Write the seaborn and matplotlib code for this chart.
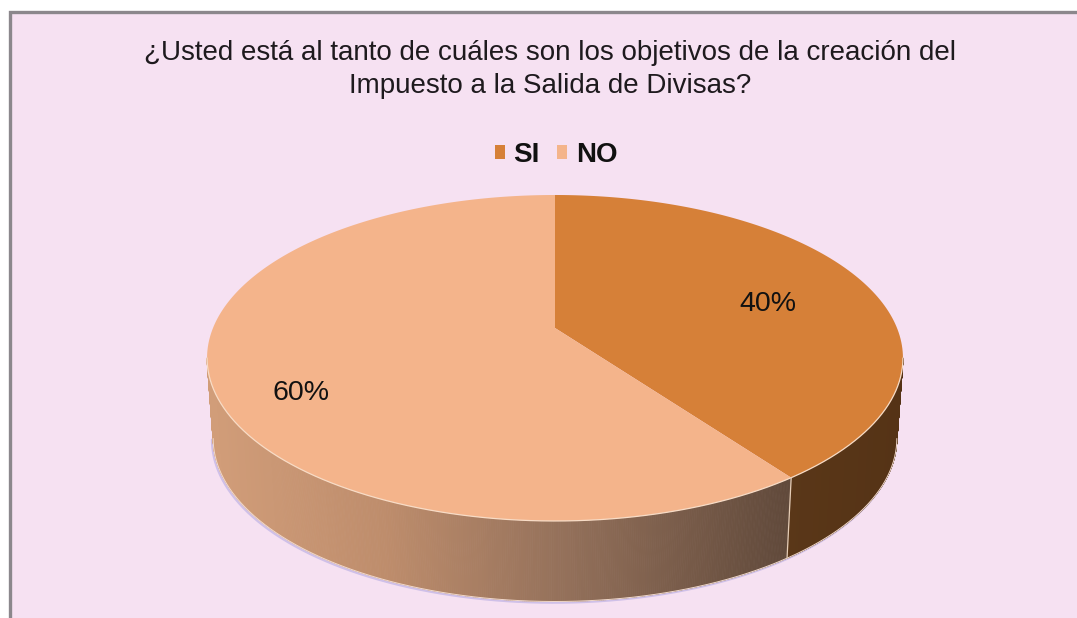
import numpy as np
import matplotlib
matplotlib.use("Agg")
import matplotlib.pyplot as plt
import seaborn as sns
from matplotlib.collections import PolyCollection
from matplotlib.colors import LinearSegmentedColormap
from matplotlib.patches import Rectangle
from matplotlib.path import Path
from matplotlib.transforms import Affine2D, Transform

# Survey answers
categories = ["SI", "NO"]
shares = [40, 60]
top_colors = ["#D68038", "#F4B48B"]
title_lines = [
    "¿Usted está al tanto de cuáles son los objetivos de la creación del",
    "Impuesto a la Salida de Divisas?",
]

sns.set_theme(style="white")
plt.rcParams["font.family"] = ["Liberation Sans", "DejaVu Sans"]

W, H = 1077, 618
CX = 555.0
TOP_CY, BOTTOM_CY = 358.0, 438.5
TILT = 0.184
CENTER_SHIFT = 30.0
SEMI_Y = 163.0


class DiscProjection(Transform):
    """Projects the unit disc onto a tilted plane, in pixel coordinates."""

    input_dims = output_dims = 2
    has_inverse = False

    def __init__(self, semi_x, cy):
        super().__init__()
        self.semi_x, self.cy = semi_x, cy

    def transform_non_affine(self, xy):
        xy = np.asarray(xy, dtype=float)
        w = 1 + TILT * xy[:, 1]
        px = CX + self.semi_x * xy[:, 0] / w
        py = self.cy - (SEMI_Y * xy[:, 1] + CENTER_SHIFT) / w
        return np.column_stack([px, py])

    def transform_path_non_affine(self, path):
        # Flatten the arcs at high resolution before projecting them.
        big = path.transformed(Affine2D().scale(2000))
        verts = np.vstack(big.to_polygons(closed_only=True)) / 2000
        return Path(self.transform_non_affine(verts), closed=True)


top_disc = DiscProjection(342.0, TOP_CY)
low_disc = DiscProjection(336.0, BOTTOM_CY)

fig = plt.figure(figsize=(W / 100, H / 100), dpi=100, facecolor="white")
ax = fig.add_axes([0, 0, 1, 1])

wedges, _ = ax.pie(shares, colors=top_colors, startangle=90, counterclock=False,
                   radius=1.0, wedgeprops={"linewidth": 0})
ax.set_aspect("auto")
ax.set_xlim(0, W)
ax.set_ylim(H, 0)
ax.axis("off")

ax.add_patch(Rectangle((9.5, 11.5), W + 20, H + 20, facecolor="#F6E1F2",
                       edgecolor="#8B878C", linewidth=2.4, zorder=0))

for w in wedges:
    w.set_transform(top_disc + ax.transData)
    w.set_zorder(4)

# Slice boundaries on the rim (clockwise from twelve o'clock)
fractions = np.cumsum([0] + shares) / sum(shares)
boundaries = np.pi / 2 - 2 * np.pi * fractions

# Only the front of the rim is visible: it ends where the outline turns back.
front_start = -np.arcsin(TILT)
front_end = -np.pi + np.arcsin(TILT)


def ring(a, b, n):
    t = np.linspace(a, b, n)
    return np.column_stack([np.cos(t), np.sin(t)])


wall_cmap = LinearSegmentedColormap.from_list(
    "wall", [(0.0, "#D19D79"), (0.3, "#BE8D6C"), (0.62, "#93705A"), (1.0, "#614A3B")])
wall_si = LinearSegmentedColormap.from_list("wall_si", ["#5A3718", "#553316"])

for i in range(len(shares)):
    a = min(boundaries[i], front_start)
    b = max(boundaries[i + 1], front_end)
    pts = ring(a, b, 400)
    upper = top_disc.transform_non_affine(pts)
    lower = low_disc.transform_non_affine(pts)
    quads = [np.array([upper[k], upper[k + 1], lower[k + 1], lower[k]]) for k in range(len(pts) - 1)]
    mid_x = np.array([q[:, 0].mean() for q in quads])
    if i == 0:
        colors = wall_si((mid_x - 785) / (900 - 785))
    else:
        colors = wall_cmap((mid_x - 212) / (785 - 212))
    ax.add_collection(PolyCollection(quads, facecolors=colors, edgecolors=colors,
                                     linewidths=0.6, zorder=3))

# Soft lavender shadow and pale highlights along the edges
front = ring(front_start, front_end, 400)
rim_low = low_disc.transform_non_affine(front)
ax.plot(rim_low[:, 0] - 1.2, rim_low[:, 1] + 1.2, color="#CFC0E8", lw=1.6, zorder=2)
ax.plot(rim_low[:, 0], rim_low[:, 1], color="#F1D9CC", lw=0.7, zorder=3.5)
rim_top = top_disc.transform_non_affine(front)
ax.plot(rim_top[:, 0], rim_top[:, 1], color="#F8DCC6", lw=0.9, zorder=5)

edge = np.array([[np.cos(boundaries[1]), np.sin(boundaries[1])]])
a_pt, b_pt = top_disc.transform_non_affine(edge)[0], low_disc.transform_non_affine(edge)[0]
ax.plot([a_pt[0], b_pt[0]], [a_pt[1], b_pt[1]], color="#E6CDB6", lw=0.9, zorder=5)

# Slice percentages
label_xy = [(768, 304), (301, 393)]
for value, (lx, ly) in zip(shares, label_xy):
    ax.text(lx, ly, f"{value}%", ha="center", va="center", fontsize=20.5,
            color="#111111", zorder=6)

# Two-line heading
for line, y in zip(title_lines, [53.5, 86]):
    ax.text(550.5, y, line, ha="center", va="center", fontsize=20, color="#1E1A1E")

leg = ax.legend(wedges, categories, loc="center", bbox_to_anchor=(556 / W, 1 - 155 / H),
                bbox_transform=fig.transFigure, ncol=2, frameon=False, borderpad=0,
                prop={"size": 20, "weight": "bold"}, handlelength=0.36, handleheight=0.36,
                handletextpad=0.3, columnspacing=0.65, labelcolor="#111111")

fig.savefig("out.png", dpi=100, facecolor="white")
